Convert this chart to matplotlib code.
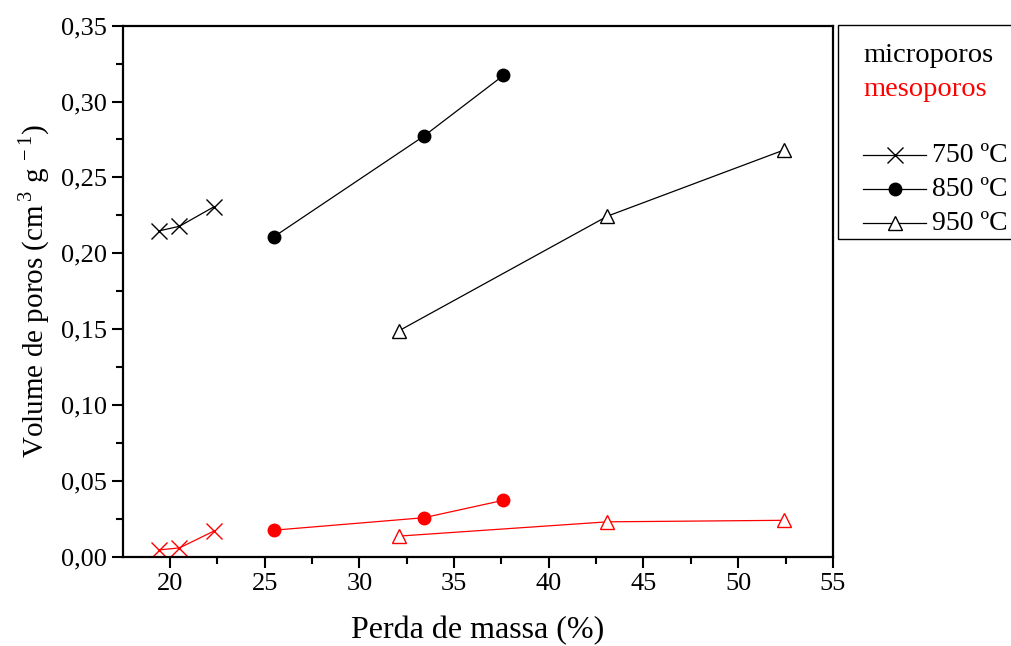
import matplotlib.pyplot as plt
from matplotlib.lines import Line2D
from matplotlib.patches import Rectangle

plt.rcParams['font.family'] = ['Liberation Serif', 'DejaVu Serif']
plt.rcParams['mathtext.fontset'] = 'custom'
plt.rcParams['mathtext.rm'] = 'Liberation Serif'

# mass loss (%) per activation temperature
x_750 = [19.4, 20.5, 22.3]
x_850 = [25.5, 33.4, 37.6]
x_950 = [32.1, 43.1, 52.4]

# micropore volumes (cm3/g)
micro_750 = [0.2147, 0.2178, 0.2305]
micro_850 = [0.2110, 0.2772, 0.3172]
micro_950 = [0.1490, 0.2245, 0.2680]

# mesopore volumes (cm3/g)
meso_750 = [0.0045, 0.0058, 0.0168]
meso_850 = [0.0175, 0.0257, 0.0372]
meso_950 = [0.0136, 0.0230, 0.0240]

labels = ['750 ºC', '850 ºC', '950 ºC']
markers = ['x', 'o', '^']
sizes = [11, 9, 10]

fig = plt.figure(figsize=(10.12, 6.46), dpi=100)
ax = fig.add_axes([0.1212, 0.1382, 0.7018, 0.8220])

xs = [x_750, x_850, x_950]
micro = [micro_750, micro_850, micro_950]
meso = [meso_750, meso_850, meso_950]

for i in range(3):
    filled = markers[i] == 'o'
    ax.plot(xs[i], micro[i], color='black', lw=0.9, marker=markers[i],
            ms=sizes[i], mfc='black' if filled else 'white', mec='black', mew=1.0)
    ax.plot(xs[i], meso[i], color='red', lw=0.9, marker=markers[i],
            ms=sizes[i], mfc='red' if filled else 'white', mec='red', mew=1.0)

ax.set_xlim(17.5, 55)
ax.set_ylim(0, 0.35)
ax.set_xticks([20, 25, 30, 35, 40, 45, 50, 55])
ax.set_xticks([22.5, 27.5, 32.5, 37.5, 42.5, 47.5, 52.5], minor=True)
yt = [i * 0.05 for i in range(8)]
ax.set_yticks(yt)
ax.set_yticks([0.025 + i * 0.05 for i in range(7)], minor=True)
ax.set_yticklabels([('%.2f' % v).replace('.', ',') for v in yt])
ax.tick_params(which='major', direction='out', length=8, width=1.5, labelsize=19)
ax.tick_params(which='minor', direction='out', length=5, width=1.5)
for s in ax.spines.values():
    s.set_linewidth(1.6)

ax.set_xlabel('Perda de massa (%)', fontsize=23, labelpad=15)
ax.set_ylabel('Volume de poros (cm$^{\\,3}$ g$^{\\,-1}$)', fontsize=21, labelpad=6)

# legend box drawn by hand to the right of the axes
W, H = 1012.0, 646.0
def fx(px):
    return px / W
def fy(py):
    return 1 - py / H

fig.add_artist(Rectangle((fx(838), fy(239)), fx(200), (239 - 25) / H,
                         transform=fig.transFigure, fill=False, lw=1.0, ec='black'))
fig.text(fx(863), fy(55), 'microporos', fontsize=20.5, va='center', color='black')
fig.text(fx(863), fy(89), 'mesoporos', fontsize=20.5, va='center', color='red')
for i, yy in enumerate([155, 189, 223]):
    fig.add_artist(Line2D([fx(863), fx(926)], [fy(yy), fy(yy)], transform=fig.transFigure,
                          color='black', lw=0.9))
    filled = markers[i] == 'o'
    fig.add_artist(Line2D([fx(895)], [fy(yy)], transform=fig.transFigure, ls='none',
                          marker=markers[i], ms=sizes[i], mfc='black' if filled else 'white',
                          mec='black', mew=1.0))
    fig.text(fx(932), fy(yy), labels[i], fontsize=20, va='center')

fig.savefig('out.png', dpi=100)
